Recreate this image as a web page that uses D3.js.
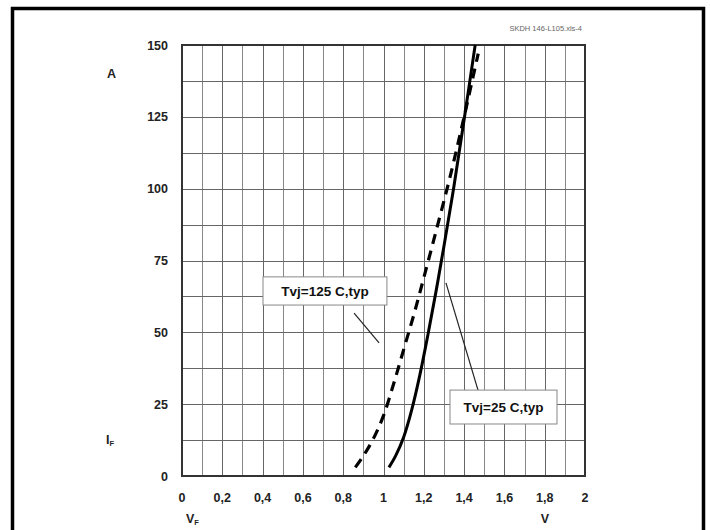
<!DOCTYPE html>
<html><head><meta charset="utf-8">
<script src="https://cdn.jsdelivr.net/npm/d3@7"></script>
<style>
html,body{margin:0;padding:0;background:#fff;}
svg{display:block;font-family:"Liberation Sans",Arial,sans-serif;}
</style></head>
<body><svg id="c" width="710" height="530"></svg>
<script>
// ---- data ----
const xTicks = [0,0.2,0.4,0.6,0.8,1,1.2,1.4,1.6,1.8,2];
const yTicks = [0,25,50,75,100,125,150];
const vf25 = [1.027,1.06,1.10,1.14,1.18,1.22,1.26,1.30,1.35,1.40,1.455];
const if25 = [3,7,13.5,23,35,49,64,80,101,124,150];
const vf125 = [0.86,0.90,0.95,1.00,1.05,1.10,1.15,1.20,1.26,1.33,1.40,1.47];
const if125 = [3,7,13,21,32,44,56,69,85,104,125,147];
const labels = ["Tvj=125 C,typ","Tvj=25 C,typ"];
const labelBoxV = [[0.402,1.017],[1.330,1.861]];
const labelBoxI = [[69.3,59.5],[29.9,18.1]];
const leaderV = [[0.854,0.978],[1.31,1.469]];
const leaderI = [[56.7,46.3],[67.2,29.9]];
const fileTag = "SKDH 146-L105.xls-4";

const svg = d3.select("#c");
const x = d3.scaleLinear().domain([0,2]).range([182,585]);
const y = d3.scaleLinear().domain([0,150]).range([476,45]);

// outer frame (no bottom)
svg.append("path").attr("d","M12.5,540 V8.5 H703.5 V540")
  .attr("fill","none").attr("stroke","#000").attr("stroke-width",3.5);

// grid
const g = svg.append("g");
g.selectAll("line.v").data(d3.range(1,20).map(i=>i/10)).join("line")
  .attr("x1",d=>Math.round(x(d))+0.5).attr("x2",d=>Math.round(x(d))+0.5).attr("y1",y(150)).attr("y2",y(0))
  .attr("stroke",(d,i)=>i%2===0?"#888":"#666").attr("stroke-width",1);
g.selectAll("line.h").data(d3.range(1,12).map(i=>i*12.5)).join("line")
  .attr("y1",d=>Math.round(y(d))+0.5).attr("y2",d=>Math.round(y(d))+0.5).attr("x1",x(0)).attr("x2",x(2))
  .attr("stroke","#666").attr("stroke-width",1);
g.append("rect").attr("x",x(0)).attr("y",y(150)).attr("width",x(2)-x(0)).attr("height",y(0)-y(150))
  .attr("fill","none").attr("stroke","#333").attr("stroke-width",2);

// axes tick labels
const fmt = d => String(d).replace(".",",");
svg.selectAll("text.xt").data(xTicks).join("text")
  .attr("x",d=>x(d)).attr("y",502).attr("text-anchor","middle")
  .attr("font-size",12.5).attr("font-weight","bold").attr("fill","#222").text(fmt);
svg.selectAll("text.yt").data(yTicks).join("text")
  .attr("x",168).attr("y",d=>y(d)+4.5).attr("text-anchor","end")
  .attr("font-size",12.5).attr("font-weight","bold").attr("fill","#222").text(d=>d);

// axis unit labels
svg.append("text").attr("x",107).attr("y",78).attr("font-size",12.5).attr("font-weight","bold").attr("fill","#222").text("A");
const ifl = svg.append("text").attr("x",106).attr("y",444).attr("font-size",12.5).attr("font-weight","bold").attr("fill","#222");
ifl.append("tspan").text("I");
ifl.append("tspan").attr("font-size",7.5).attr("dy",2).text("F");
const vfl = svg.append("text").attr("x",186).attr("y",523).attr("font-size",12.5).attr("font-weight","bold").attr("fill","#222");
vfl.append("tspan").text("V");
vfl.append("tspan").attr("font-size",7.5).attr("dy",2).text("F");
svg.append("text").attr("x",545).attr("y",523).attr("text-anchor","middle").attr("font-size",12.5).attr("font-weight","bold").attr("fill","#222").text("V");

// file tag
svg.append("text").attr("x",582).attr("y",31).attr("text-anchor","end").attr("font-size",7.5).attr("fill","#666").text(fileTag);

// curves
const line = d3.line().x(d=>x(d[0])).y(d=>y(d[1])).curve(d3.curveCatmullRom);
svg.append("path").datum(vf25.map((v,i)=>[v,if25[i]])).attr("d",line)
  .attr("fill","none").attr("stroke","#000").attr("stroke-width",3);
svg.append("path").datum(vf125.map((v,i)=>[v,if125[i]])).attr("d",line)
  .attr("fill","none").attr("stroke","#000").attr("stroke-width",3.2).attr("stroke-dasharray","10,7");

// leaders and label boxes
labels.forEach((t,i)=>{
  svg.append("line").attr("x1",x(leaderV[i][0])).attr("y1",y(leaderI[i][0]))
    .attr("x2",x(leaderV[i][1])).attr("y2",y(leaderI[i][1])).attr("stroke","#222").attr("stroke-width",1.2);
  const x0=x(labelBoxV[i][0]), x1=x(labelBoxV[i][1]), y0=y(labelBoxI[i][0]), y1=y(labelBoxI[i][1]);
  svg.append("rect").attr("x",x0).attr("y",y0).attr("width",x1-x0).attr("height",y1-y0)
    .attr("fill","#fff").attr("stroke","#888").attr("stroke-width",1);
  svg.append("text").attr("x",(x0+x1)/2).attr("y",(y0+y1)/2+5).attr("text-anchor","middle")
    .attr("font-size",13.5).attr("font-weight","bold").attr("fill","#111").text(t);
});
</script></body></html>
